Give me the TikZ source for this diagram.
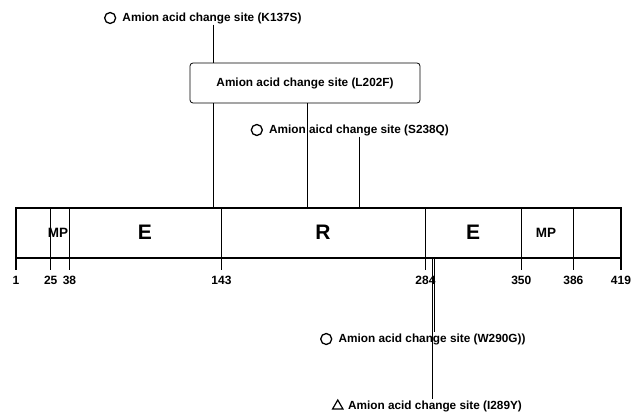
\documentclass[tikz,border=0pt]{standalone}
\usepackage{fontspec}
\setmainfont{Liberation Sans}
\usetikzlibrary{shapes.geometric,positioning}

\begin{document}
\begin{tikzpicture}[x=1pt, y=-1pt,
  site/.style={font=\fontsize{11.8}{13}\selectfont\bfseries, inner sep=1pt},
  ring/.style={circle, draw, line width=1.3pt, minimum size=11pt, inner sep=0pt},
  tri/.style={regular polygon, regular polygon sides=3, draw, line width=1.2pt,
              minimum size=12pt, inner sep=0pt},
  dom/.style={font=\fontsize{21}{22}\selectfont\bfseries},
  mp/.style={font=\fontsize{13.5}{15}\selectfont\bfseries},
  num/.style={font=\fontsize{12}{13}\selectfont\bfseries, inner sep=0pt},
  heavy/.style={line width=1.7pt},
  light/.style={line width=0.6pt}
]
  \useasboundingbox (0,0) rectangle (639,414);
  % Protein bar
  \coordinate (bl) at (16,258);
  \coordinate (tr) at (621,208);
  \draw[line width=1.2pt] (bl) rectangle (tr);
  % Domain borders and ticks
  \foreach \x/\n/\w in {16/1/heavy, 50.7/25/light, 69.5/38/heavy, 221.5/143/heavy,
                        425.5/284/heavy, 521.3/350/light, 573.4/386/light, 621/419/heavy} {
    \coordinate (t\n) at (\x,207);
    \node[num] (n\n) at (\x,280) {\n};
    \draw[\w] (t\n) -- (\x,270);
  }
  % Domain labels
  \node[mp]  (mp1) at (58,233)  {MP};
  \node[dom] (e1)  at (145,232) {E};
  \node[dom] (r)   at (323,232) {R};
  \node[dom] (e2)  at (473,232) {E};
  \node[mp]  (mp2) at (546,233) {MP};
  % Sites above the bar
  \coordinate (p137) at (212.8,208);
  \coordinate (p202) at (306.8,208);
  \coordinate (p238) at (359,208);
  \node[site] (k137) at (212,18) {Amion acid change site (K137S)};
  \node[ring, left=5pt of k137] (k137c) {};
  \node[draw, rounded corners=3pt, line width=0.8pt, minimum width=230pt,
        minimum height=40pt, site] (l202) at (305,83) {Amion acid change site (L202F)};
  \node[site] (s238) at (359,130) {Amion aicd change site (S238Q)};
  \node[ring, left=5pt of s238] (s238c) {};
  \draw[light] (k137.south -| p137) -- (l202.north -| p137);
  \draw[light] (l202.south -| p137) -- (p137);
  \draw[light] (l202.south -| p202) -- (p202);
  \draw[light] (s238.south -| p238) -- (p238);
  % Sites below the bar
  \coordinate (p289) at (432.7,258);
  \coordinate (p290) at (434.2,258);
  \node[site] (w290) at (432,339) {Amion acid change site (W290G))};
  \node[ring, left=5pt of w290] (w290c) {};
  \node[site] (i289) at (435,406) {Amion acid change site (I289Y)};
  \node[tri, left=5pt of i289] (i289c) {};
  \draw[light] (p289) -- (i289.north -| p289);
  \draw[light] (p290) -- (w290.north -| p290);
\end{tikzpicture}
\end{document}
